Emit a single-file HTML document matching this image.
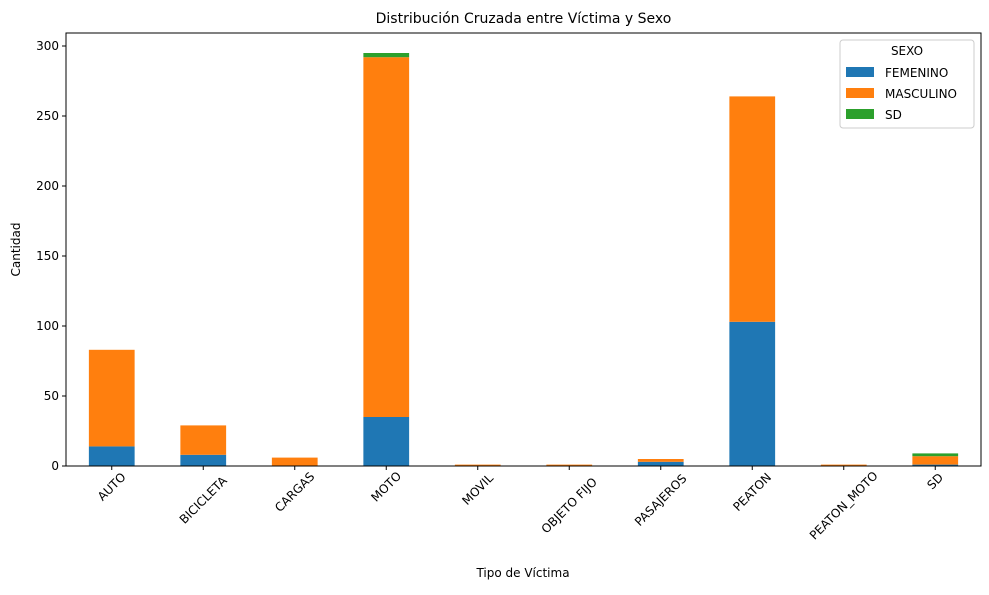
<!DOCTYPE html>
<html><head><meta charset="utf-8"><style>
body{margin:0;background:#fff;font-family:"Liberation Sans","DejaVu Sans",sans-serif;}
</style></head><body>
<svg id="c" width="989" height="590" xmlns="http://www.w3.org/2000/svg" font-family="DejaVu Sans, Liberation Sans, sans-serif"></svg>
<script>
const categories=["AUTO","BICICLETA","CARGAS","MOTO","MOVIL","OBJETO FIJO","PASAJEROS","PEATON","PEATON_MOTO","SD"];
const femenino=[14,8,0,35,0,0,3,103,0,1];
const masculino=[69,21,6,257,1,1,2,161,1,6];
const sd=[0,0,0,3,0,0,0,0,0,2];
const yTicks=[0,50,100,150,200,250,300];
const seriesNames=["FEMENINO","MASCULINO","SD"];
const colors=["#1f77b4","#ff7f0e","#2ca02c"];
const NS="http://www.w3.org/2000/svg";
const svg=document.getElementById('c');
const L=66,R=981,T=33,B=466;
const step=(R-L)/categories.length;
const xC=i=>L+step*(i+0.5);
const y=v=>B-v*1.4;
function mk(t,a,p){const e=document.createElementNS(NS,t);for(const k in a)e.setAttribute(k,a[k]);(p||svg).appendChild(e);return e;}
const series=[femenino,masculino,sd];
categories.forEach((c,i)=>{let base=0;series.forEach((s,j)=>{const v=s[i];if(v>0){const r=mk('rect',{x:xC(i)-step/4,y:y(base+v),width:step/2,height:y(base)-y(base+v),fill:colors[j]});

}base+=v;});
mk('line',{x1:xC(i),x2:xC(i),y1:B,y2:B+4,stroke:'#000'});
const w=c.length*7.6;const off=w*0.3535;
const t=mk('text',{x:0,y:4,'font-size':12,'text-anchor':'middle',transform:`translate(${xC(i)},${B+10+off}) rotate(-45)`});t.textContent=c;

});
yTicks.forEach(v=>{mk('line',{x1:L-4,x2:L,y1:y(v),y2:y(v),stroke:'#000'});const t=mk('text',{x:L-7,y:y(v)+4,'font-size':12,'text-anchor':'end'});t.textContent=v;

});
mk('rect',{x:L,y:T,width:R-L,height:B-T,fill:'none',stroke:'#000','stroke-width':1});
let t=mk('text',{x:(L+R)/2,y:23,'font-size':14,'text-anchor':'middle'});t.textContent='Distribución Cruzada entre Víctima y Sexo';

t=mk('text',{x:523,y:577,'font-size':12,'text-anchor':'middle'});t.textContent='Tipo de Víctima';

t=mk('text',{x:0,y:0,'font-size':12,'text-anchor':'middle',transform:`translate(20,${(T+B)/2}) rotate(-90)`});t.textContent='Cantidad';

const lg=mk('g',{});
mk('rect',{x:840,y:40,width:134,height:88,rx:3,fill:'#fff',stroke:'#ccc'},lg);
t=mk('text',{x:907,y:55,'font-size':12,'text-anchor':'middle'},lg);t.textContent='SEXO';
seriesNames.forEach((n,j)=>{mk('rect',{x:846,y:67+j*21,width:28,height:10,fill:colors[j]},lg);const tt=mk('text',{x:885,y:77+j*21,'font-size':12},lg);tt.textContent=n;
});
</script>
</body></html>
